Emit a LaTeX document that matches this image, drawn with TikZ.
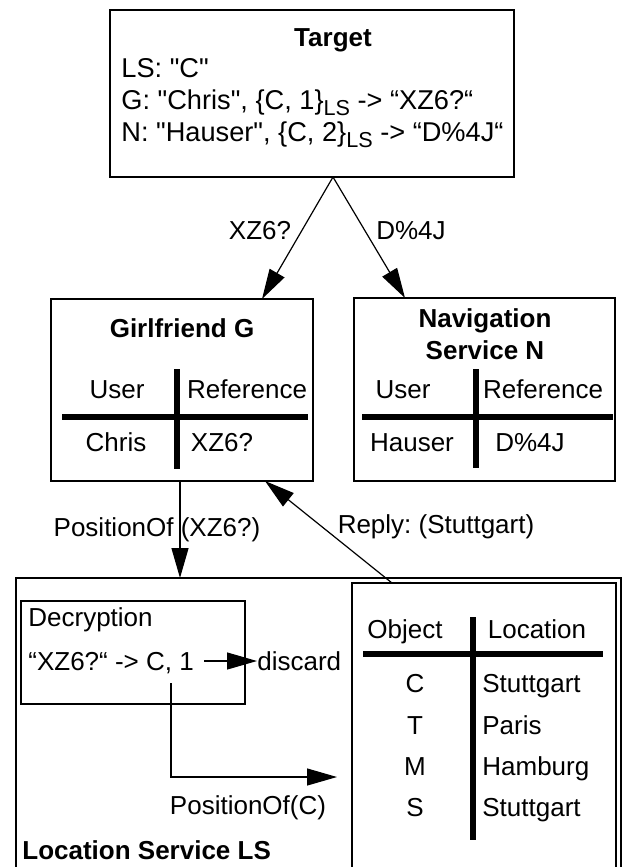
\documentclass[tikz,border=0pt]{standalone}
\usepackage{fontspec}
\setmainfont{Liberation Sans}[Ligatures=TeXOff]
\usetikzlibrary{arrows.meta,calc,positioning}
\tikzset{
  box/.style={draw, line width=0.6pt, inner sep=0pt, outer sep=0pt},
  txt/.style={inner sep=0pt, text height=9.3pt, text depth=0pt, font=\fontsize{13}{15.6}\selectfont},
  bigtxt/.style={txt, font=\fontsize{13.6}{16}\selectfont},
  titletxt/.style={txt, font=\fontsize{13}{15.6}\selectfont\bfseries},
  tabline/.style={line width=2.75pt},
  arrow/.style={-{Triangle[length=15pt,width=8.5pt]}, line width=0.6pt}
}
\newcommand{\lssub}{\raisebox{-3pt}{\fontsize{10.8}{12}\selectfont LS}}
\frenchspacing

\begin{document}
\begin{tikzpicture}[x=0.5pt, y=-0.5pt]
  \useasboundingbox (0,0) rectangle (626,867);

  % boxes
  \node[box, minimum width=202pt, minimum height=83.5pt] (target) at (312,93.5) {};
  \node[box, minimum width=131pt, minimum height=91pt] (girl) at (182,390) {};
  \node[box, minimum width=130.5pt, minimum height=91.5pt] (nav) at (484.5,389.5) {};
  \node[box, minimum width=302.5pt, minimum height=161pt] (ls) at (318.5,739) {};
  \node[box, minimum width=132pt, minimum height=158.5pt] (locbox) at (484,741.5) {};
  \node[box, minimum width=112pt, minimum height=51.5pt] (decrypt) at (133,652.5) {};

  % target
  \node[titletxt] (targettitle) at (333,37) {Target};
  \node[bigtxt, anchor=west] (tls) at (121,68) {LS: "C"};
  \node[bigtxt, anchor=west] (tg) at (121,100) {G: "Chris", \{C, 1\}\lssub{} -> “XZ6?“};
  \node[bigtxt, anchor=west] (tn) at (121,132) {N: "Hauser", \{C, 2\}\lssub{} -> “D\%4J“};

  % girlfriend
  \node[titletxt] (girltitle) at (182,328) {Girlfriend G};
  \node[txt] (guser) at (117,389) {User};
  \node[txt] (gref) at (247,389) {Reference};
  \node[txt] (gchris) at (116,442) {Chris};
  \node[txt] (gxz) at (222,442) {XZ6?};
  \draw[tabline] (62,417) -- (308,417);
  \draw[tabline] (177,369) -- (177,469);

  % navigation service
  \node[titletxt] (navtitle) at (485,318) {Navigation};
  \node[titletxt] (navtitleb) at (485,350) {Service N};
  \node[txt] (nuser) at (403,389) {User};
  \node[txt] (nref) at (543,389) {Reference};
  \node[txt] (nhauser) at (412,442) {Hauser};
  \node[txt] (ndj) at (530,442) {D\%4J};
  \draw[tabline] (362,417) -- (613,417);
  \draw[tabline] (476,369) -- (476,468);

  % target -> holders
  \coordinate (fork) at ($(target.south)+(21,0)$);
  \draw[arrow] (fork) -- ($(girl.north)+(80,0)$);
  \draw[arrow] (fork) -- ($(nav.north)+(-79.5,0)$);
  \node[txt] (xzlbl) at (260,230) {XZ6?};
  \node[txt] (djlbl) at (411,230) {D\%4J};

  % query and reply
  \draw[arrow] ($(girl.south)+(-2,0)$) -- ($(girl.south |- ls.north)+(-2,0)$);
  \node[txt] (querylbl) at (157,527) {PositionOf (XZ6?)};
  \draw[arrow] ($(locbox.north)+(-92,0)$) -- ($(girl.south)+(83,0)$);
  \node[txt] (replylbl) at (436,524) {Reply: (Stuttgart)};

  % decryption
  \node[txt, anchor=west] (dectitle) at (28,617) {Decryption};
  \node[txt, anchor=west] (decline) at (28,661) {“XZ6?“ -> C, 1};
  \node[txt, anchor=west] (discard) at (257,661) {discard};
  \draw[arrow] ([xshift=5pt]decline.east) -- (discard.west);
  \coordinate (decout) at (171,683);
  \coordinate (query) at (337,777);
  \draw[arrow] (decout) |- (query);
  \node[txt] (poslbl) at (248,805) {PositionOf(C)};
  \node[titletxt, anchor=west] (lstitle) at (22,850) {Location Service LS};

  % location table
  \node[txt] (objhead) at (405,629) {Object};
  \node[txt] (lochead) at (537,629) {Location};
  \draw[tabline] (363,654) -- (603,654);
  \draw[tabline] (473,617) -- (473,840);
  \foreach \obj/\place/\yy in {C/Stuttgart/683, T/Paris/725, M/Hamburg/766, S/Stuttgart/807} {
    \node[txt] (obj-\obj) at (415,\yy) {\obj};
    \node[txt, anchor=west] (loc-\obj) at (482,\yy) {\place};
  }
\end{tikzpicture}
\end{document}
